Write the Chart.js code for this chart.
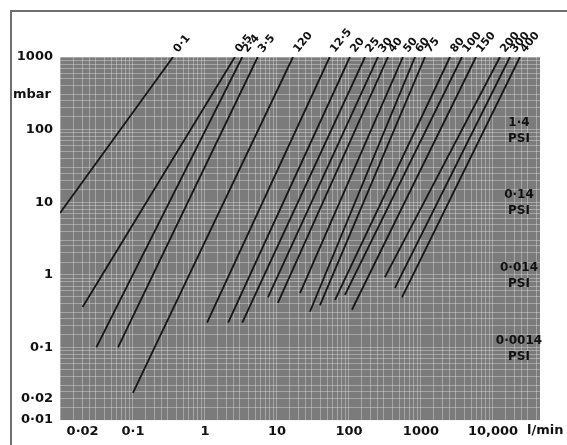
<!DOCTYPE html>
<html>
<head>
<meta charset="utf-8">
<script src="https://cdn.jsdelivr.net/npm/chart.js@4.4.0/dist/chart.umd.min.js"></script>
<style>
  html, body { margin: 0; padding: 0; background: #fff; }
  #wrap { width: 567px; height: 445px; position: relative; }
</style>
</head>
<body>
<div id="wrap"><canvas id="flowChart"></canvas></div>
<script>
// Curve labels, printed at the top end of each line
const curveLabels = ['0·1', '0·5', '2·4', '3·5', '120', '12·5', '20', '25', '30', '40', '50', '60', '75', '80', '100', '150', '200', '300', '400'];
// Lower end of each curve (flow l/min, pressure drop mbar)
const startFlow = [0.0097, 0.02, 0.031, 0.062, 0.1, 1.07, 2.1, 3.3, 7.5, 10.3, 20.9, 28.7, 39.5, 64, 88, 110, 316, 435, 545];
const startMbar = [7.1, 0.36, 0.1, 0.1, 0.0236, 0.22, 0.22, 0.22, 0.49, 0.41, 0.56, 0.31, 0.38, 0.45, 0.53, 0.33, 0.93, 0.66, 0.49];
// Upper end of each curve
const endFlow = [0.36, 2.6, 3.3, 5.4, 16.7, 54, 103, 167, 253, 348, 562, 826, 1137, 2530, 3710, 5800, 12500, 17200, 23700];
const endMbar = [1000, 1000, 1000, 1000, 1000, 1000, 1000, 1000, 1000, 1000, 1000, 1000, 1000, 1000, 1000, 1000, 1000, 1000, 1000];

// Axis ranges and labelled ticks
const xMin = 0.0097, xMax = 45000;
const yMin = 0.01, yMax = 1000;
const xTickValues = [0.02, 0.1, 1, 10, 100, 1000, 10000];
const xTickLabels = ['0·02', '0·1', '1', '10', '100', '1000', '10,000'];
const yTickValues = [0.01, 0.02, 0.1, 1, 10, 100, 1000];
const yTickLabels = ['0·01', '0·02', '0·1', '1', '10', '100', '1000'];

// PSI equivalents marked on the right
const psiLabels = ['1·4', '0·14', '0·014', '0·0014'];
const psiMbar = [96.5, 9.65, 0.965, 0.0965];

const FONT = 'DejaVu Sans';

// graph paper lines: several per decade
function paperTicks(min, max) {
    const steps = [1, 1.5, 2, 2.5, 3, 4, 5, 6, 7, 8, 9];
    const out = [];
    for (let e = Math.floor(Math.log10(min)); e <= Math.ceil(Math.log10(max)); e++) {
        steps.forEach(s => {
            const v = s * Math.pow(10, e);
            if (v >= min * 0.999 && v <= max * 1.001) out.push({ value: v });
        });
    }
    return out;
}

function labelFor(values, labels, v) {
    const i = values.findIndex(t => Math.abs(t / v - 1) < 1e-6);
    return i >= 0 ? labels[i] : '';
}

const datasets = curveLabels.map((name, i) => ({
    label: name,
    data: [
        { x: startFlow[i], y: startMbar[i] },
        { x: endFlow[i], y: endMbar[i] }
    ],
    showLine: true,
    borderColor: '#161616',
    borderWidth: 1.8,
    pointRadius: 0,
    fill: false
}));

const paperPlugin = {
    id: 'paper',
    beforeDraw(chart) {
        const { ctx, chartArea: a } = chart;
        ctx.save();
        ctx.fillStyle = '#7b7b7b';
        ctx.fillRect(a.left, a.top, a.right - a.left, a.bottom - a.top);
        // outer frame
        ctx.strokeStyle = '#707070';
        ctx.lineWidth = 2;
        ctx.beginPath();
        ctx.moveTo(11, 445);
        ctx.lineTo(11, 11);
        ctx.lineTo(567, 11);
        ctx.stroke();
        ctx.restore();
    },
    afterDraw(chart) {
        const { ctx, scales } = chart;
        ctx.save();
        ctx.fillStyle = '#111';

        // curve names, slanted above the top of each line
        ctx.font = 'bold 11px ' + FONT;
        ctx.textAlign = 'left';
        ctx.textBaseline = 'alphabetic';
        chart.data.datasets.forEach((ds, i) => {
            const p = chart.getDatasetMeta(i).data[1];
            ctx.save();
            ctx.translate(p.x + 5, p.y - 4);
            ctx.rotate(-Math.PI * 0.28);
            ctx.fillText(ds.label, 0, 0);
            ctx.restore();
        });

        // PSI marks
        ctx.font = 'bold 12px ' + FONT;
        ctx.textAlign = 'center';
        ctx.textBaseline = 'middle';
        psiLabels.forEach((t, i) => {
            const y = scales.y.getPixelForValue(psiMbar[i]);
            ctx.fillText(t, 519, y - 8);
            ctx.fillText('PSI', 519, y + 8);
        });

        // units
        ctx.font = 'bold 13px ' + FONT;
        ctx.textAlign = 'left';
        ctx.fillText('mbar', 13, 95);
        ctx.fillText('l/min', 527, scales.x.bottom - 14);
        ctx.restore();
    }
};

new Chart(document.getElementById('flowChart').getContext('2d'), {
    type: 'scatter',
    data: { datasets: datasets },
    options: {
        responsive: true,
        maintainAspectRatio: false,
        animation: false,
        layout: { padding: { left: 0, top: 57, right: 27, bottom: 0 } },
        plugins: {
            legend: { display: false },
            tooltip: { enabled: false }
        },
        scales: {
            x: {
                type: 'logarithmic',
                min: xMin,
                max: xMax,
                afterBuildTicks: scale => { scale.ticks = paperTicks(xMin, xMax); },
                afterFit: scale => { scale.height = 25; },
                border: { display: false },
                grid: { color: 'rgba(235,235,235,0.38)', lineWidth: 1, drawTicks: false },
                ticks: {
                    autoSkip: false,
                    maxRotation: 0,
                    padding: 4,
                    color: '#111',
                    font: { family: FONT, size: 13, weight: 'bold' },
                    callback: v => labelFor(xTickValues, xTickLabels, v)
                }
            },
            y: {
                type: 'logarithmic',
                min: yMin,
                max: yMax,
                afterBuildTicks: scale => { scale.ticks = paperTicks(yMin, yMax); },
                afterFit: scale => { scale.width = 60; },
                border: { display: false },
                grid: { color: 'rgba(235,235,235,0.38)', lineWidth: 1, drawTicks: false },
                ticks: {
                    autoSkip: false,
                    padding: 7,
                    color: '#111',
                    font: { family: FONT, size: 13, weight: 'bold' },
                    callback: v => labelFor(yTickValues, yTickLabels, v)
                }
            }
        }
    },
    plugins: [paperPlugin]
});
</script>
</body>
</html>
